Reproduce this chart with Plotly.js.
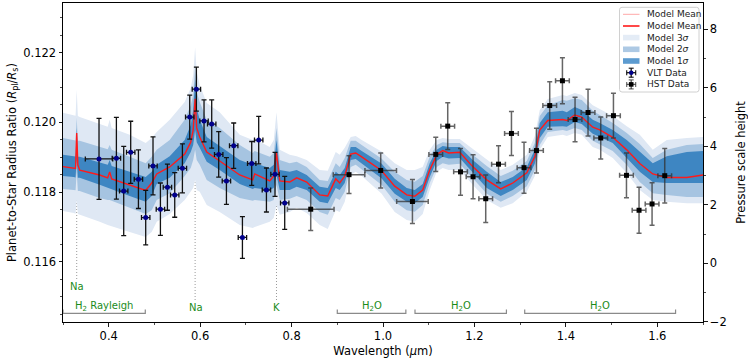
<!DOCTYPE html>
<html><head><meta charset="utf-8">
<script src="https://cdn.plot.ly/plotly-3.0.1.min.js"></script>
<style>html,body{margin:0;padding:0;background:#fff}#chart{width:748px;height:362px}</style>
</head><body><div id="chart"></div>
<script>
// ---------------- Model (retrieval) ----------------
const modelWl = [0.300,0.3234,0.3275,0.330,0.3325,0.3365,0.3803,0.3978,0.4021,0.4065,0.4459,0.4809,0.4940,0.5050,0.5334,0.5662,0.5794,0.5848,0.5890,0.5925,0.5991,0.6144,0.6428,0.6866,0.7150,0.7194,0.7522,0.7610,0.7670,0.7741,0.7959,0.8112,0.8331,0.8616,0.8791,0.8966,0.9053,0.9163,0.9294,0.9403,0.9534,0.9966,1.0256,1.0519,1.0694,1.0869,1.1022,1.1175,1.1306,1.1438,1.1678,1.1963,1.2269,1.2575,1.2838,1.3145,1.3320,1.3429,1.3604,1.3932,1.4020,1.4195,1.4348,1.4588,1.4742,1.5026,1.5332,1.5617,1.5901,1.6207,1.6645,1.7000];
const modelMean = [0.11873,0.11869,0.11868,0.11969,0.11878,0.11863,0.11849,0.11841,0.11858,0.11838,0.11821,0.11805,0.11826,0.11852,0.11872,0.11909,0.11943,0.11978,0.12067,0.11984,0.11958,0.11915,0.11889,0.11849,0.11835,0.11852,0.11832,0.11846,0.11912,0.11832,0.11829,0.11841,0.11829,0.11792,0.11789,0.11838,0.11826,0.11846,0.11909,0.11912,0.11901,0.11862,0.11817,0.11792,0.11788,0.11806,0.11863,0.11907,0.11919,0.11912,0.11914,0.11873,0.11835,0.11809,0.11826,0.11855,0.11901,0.11978,0.12005,0.12008,0.12005,0.12021,0.12015,0.11986,0.11978,0.11957,0.11921,0.11882,0.11852,0.11842,0.11842,0.11849];
const sig1Hi = [0.11907,0.11903,0.11902,0.11984,0.11901,0.11901,0.11883,0.11878,0.11892,0.11875,0.11858,0.11843,0.11858,0.11878,0.11903,0.11949,0.11992,0.12035,0.12122,0.12041,0.12007,0.11958,0.11932,0.11892,0.11878,0.11883,0.11869,0.11878,0.11949,0.11863,0.11858,0.11863,0.11849,0.11815,0.11812,0.11858,0.11849,0.11869,0.11929,0.11929,0.11918,0.11882,0.11838,0.11812,0.11806,0.11823,0.11883,0.11921,0.11932,0.11929,0.11929,0.11892,0.11858,0.11829,0.11843,0.11872,0.11921,0.11998,0.12029,0.12033,0.12029,0.12044,0.12035,0.12007,0.11998,0.11978,0.11949,0.11915,0.11883,0.11903,0.11915,0.11918];
const sig1Lo = [0.11846,0.11843,0.11842,0.11892,0.11841,0.11841,0.11821,0.11812,0.11812,0.11809,0.11789,0.11772,0.11789,0.11823,0.11841,0.11883,0.11915,0.11935,0.11978,0.11943,0.11927,0.11887,0.11863,0.11823,0.11809,0.11812,0.11806,0.11812,0.11849,0.11806,0.11806,0.11815,0.11806,0.11772,0.11768,0.11812,0.11806,0.11826,0.11892,0.11895,0.11883,0.11840,0.11795,0.11772,0.11768,0.11786,0.11843,0.11889,0.11901,0.11896,0.11898,0.11855,0.11812,0.11789,0.11806,0.11835,0.11881,0.11955,0.11987,0.11989,0.11987,0.12001,0.11995,0.11967,0.11958,0.11941,0.11898,0.11858,0.11829,0.11826,0.11826,0.11826];
const sig2Hi = [0.11955,0.11949,0.11948,0.12013,0.11947,0.11947,0.11929,0.11923,0.11935,0.11921,0.11901,0.11883,0.11901,0.11921,0.11949,0.12007,0.12049,0.12078,0.12159,0.12087,0.12058,0.12007,0.11984,0.11935,0.11912,0.11918,0.11901,0.11912,0.11984,0.11892,0.11883,0.11887,0.11872,0.11835,0.11832,0.11883,0.11872,0.11898,0.11947,0.11947,0.11935,0.11896,0.11858,0.11835,0.11830,0.11846,0.11901,0.11935,0.11943,0.11941,0.11941,0.11907,0.11875,0.11846,0.11861,0.11889,0.11941,0.12018,0.12049,0.12064,0.12062,0.12069,0.12064,0.12033,0.12021,0.11998,0.11969,0.11938,0.11898,0.11921,0.11935,0.11938];
const sig2Lo = [0.11809,0.11806,0.11805,0.11858,0.11803,0.11803,0.11783,0.11777,0.11777,0.11775,0.11755,0.11737,0.11748,0.11777,0.11797,0.11846,0.11869,0.11892,0.11921,0.11892,0.11878,0.11835,0.11812,0.11783,0.11775,0.11777,0.11772,0.11777,0.11821,0.11777,0.11781,0.11789,0.11777,0.11743,0.11735,0.11783,0.11777,0.11801,0.11872,0.11878,0.11866,0.11821,0.11772,0.11748,0.11744,0.11763,0.11826,0.11872,0.11883,0.11878,0.11881,0.11838,0.11795,0.11772,0.11789,0.11817,0.11863,0.11935,0.11972,0.11978,0.11975,0.11984,0.11978,0.11947,0.11938,0.11918,0.11878,0.11829,0.11797,0.11792,0.11786,0.11786];
const sig3Hi = [0.12027,0.12021,0.12019,0.12093,0.12018,0.12015,0.11995,0.11987,0.12007,0.11984,0.11964,0.11941,0.11955,0.11972,0.12007,0.12058,0.12098,0.12135,0.12215,0.12144,0.12107,0.12055,0.12029,0.11964,0.11949,0.11952,0.11929,0.11949,0.12029,0.11921,0.11907,0.11903,0.11892,0.11863,0.11861,0.11915,0.11907,0.11927,0.11958,0.11961,0.11949,0.11916,0.11883,0.11863,0.11863,0.11872,0.11921,0.11949,0.11955,0.11952,0.11952,0.11923,0.11892,0.11863,0.11878,0.11907,0.11961,0.12035,0.12067,0.12078,0.12075,0.12084,0.12078,0.12049,0.12038,0.12018,0.11989,0.11964,0.11921,0.11949,0.11955,0.11958];
const sig3Lo = [0.11746,0.11740,0.11738,0.11777,0.11737,0.11737,0.11715,0.11706,0.11706,0.11702,0.11686,0.11671,0.11686,0.11715,0.11737,0.11777,0.11801,0.11812,0.11835,0.11806,0.11801,0.11763,0.11743,0.11706,0.11697,0.11700,0.11715,0.11726,0.11763,0.11735,0.11743,0.11755,0.11740,0.11706,0.11694,0.11748,0.11743,0.11772,0.11849,0.11858,0.11846,0.11796,0.11743,0.11720,0.11715,0.11737,0.11806,0.11858,0.11869,0.11863,0.11863,0.11821,0.11777,0.11755,0.11768,0.11801,0.11846,0.11921,0.11958,0.11964,0.11961,0.11969,0.11964,0.11929,0.11921,0.11898,0.11855,0.11806,0.11777,0.11772,0.11768,0.11768];

// ---------------- VLT data ----------------
const vltWl  = [0.3788,0.4168,0.4328,0.4481,0.4650,0.4809,0.4969,0.5131,0.5284,0.5444,0.5612,0.5772,0.5918,0.6085,0.6253,0.6406,0.6575,0.6734,0.6925,0.7128,0.7281,0.7450,0.7638,0.7850];
const vltWlErr = [0.030,0.0092,0.0092,0.0092,0.0092,0.0092,0.0092,0.0092,0.0092,0.0092,0.0092,0.0092,0.0092,0.0092,0.0092,0.0092,0.0092,0.0092,0.0092,0.0092,0.0092,0.0092,0.0092,0.0092];
const vltRatio = [0.11895,0.11897,0.11803,0.11914,0.11837,0.11727,0.11875,0.11751,0.11814,0.11792,0.11868,0.12015,0.12095,0.12004,0.11995,0.11908,0.11832,0.11933,0.11670,0.11882,0.11949,0.11806,0.11851,0.11769];
const vltErr   = [0.00116,0.00117,0.00128,0.00089,0.00084,0.00078,0.00083,0.00075,0.00066,0.00064,0.00070,0.00063,0.00063,0.00060,0.00069,0.00065,0.00067,0.00065,0.00060,0.00063,0.00068,0.00063,0.00063,0.00076];

// ---------------- HST data ----------------
const hstWl  = [0.8419,0.9257,0.9950,1.0644,1.1154,1.1416,1.1696,1.1970,1.2247,1.2527,1.2810,1.3085,1.3357,1.3647,1.3925,1.4201,1.4485,1.4763,1.5041,1.5326,1.5601,1.5886,1.6163];
const hstWlErr = [0.051,0.0345,0.0345,0.0345,0.015,0.015,0.015,0.015,0.015,0.015,0.015,0.015,0.015,0.015,0.015,0.015,0.015,0.015,0.015,0.015,0.015,0.015,0.015];
const hstRatio = [0.11751,0.11850,0.11862,0.11773,0.11908,0.11989,0.11858,0.11844,0.11781,0.11880,0.11968,0.11870,0.11919,0.12048,0.12119,0.12008,0.12028,0.11955,0.12019,0.11848,0.11748,0.11766,0.11847];
const hstErr   = [0.00061,0.00054,0.00050,0.00063,0.00049,0.00067,0.00067,0.00063,0.00068,0.00053,0.00063,0.00073,0.00064,0.00068,0.00066,0.00064,0.00067,0.00060,0.00064,0.00064,0.00066,0.00061,0.00078];

// ---------------- Feature annotations ----------------
const lineWl = [0.33, 0.589, 0.767];
const lineLabels = ['Na', 'Na', 'K'];
const bracketStart = [0.30, 0.90, 1.07, 1.31];
const bracketEnd   = [0.48, 1.05, 1.27, 1.64];
const bracketLabels = ['H<sub>2</sub> Rayleigh', 'H<sub>2</sub>O', 'H<sub>2</sub>O', 'H<sub>2</sub>O'];

// ---------------- Axis ranges ----------------
const xRange = [0.3, 1.7];
const yRange = [0.114278, 0.123418];
const y2Range = [-2.010, 8.901];

const C3 = '#dfe8f4', C2 = '#a6c4e1', C1 = '#3e86c2';
const RED = '#ff1a1a';
const GREEN = '#1a8c1a';

function band(hi, lo, color, name) {
  return {x: modelWl.concat(modelWl.slice().reverse()), y: hi.concat(lo.slice().reverse()),
    type:'scatter', mode:'lines', fill:'toself', fillcolor: color, line:{width:0, color: color},
    hoverinfo:'skip', showlegend:false, name: name};
}

const traces = [
  band(sig3Hi, sig3Lo, C3, 'Model 3σ'),
  band(sig2Hi, sig2Lo, C2, 'Model 2σ'),
  band(sig1Hi, sig1Lo, C1, 'Model 1σ'),
  {x: modelWl, y: modelMean, type:'scatter', mode:'lines', line:{color: RED, width:1.4}, showlegend:false, name:'Model Mean'},
  {x: hstWl, y: hstRatio, type:'scatter', mode:'markers', name:'HST Data', showlegend:false,
   marker:{symbol:'square', size:5, color:'#000'},
   error_y:{type:'data', array: hstErr, color:'rgba(50,50,50,0.75)', thickness:1.5, width:2.5},
   error_x:{type:'data', array: hstWlErr, color:'rgba(50,50,50,0.75)', thickness:1.5, width:2.5}},
  {x: vltWl, y: vltRatio, type:'scatter', mode:'markers', name:'VLT Data', showlegend:false,
   marker:{symbol:'circle', size:5, color:'#00008b'},
   error_y:{type:'data', array: vltErr, color:'#111', thickness:1.3, width:2.5},
   error_x:{type:'data', array: vltWlErr, color:'#111', thickness:1.3, width:2.5}},
  {x:[xRange[0]], y:[0], yaxis:'y2', type:'scatter', mode:'markers', marker:{opacity:0}, hoverinfo:'skip', showlegend:false}
];

// pixel helpers for layout-only decorations (plot area: x 63..703, y 3..322)
const L = 63, W = 640, T = 3, H = 319;
const PX = p => (p - L) / W;
const PY = p => (T + H - p) / H;
const yAt = p => yRange[1] - (p - T) * (yRange[1] - yRange[0]) / H;

const shapes = [];
const annotations = [];
// dotted vertical lines
const lineBottom = [279, 300, 300];
const lineTop = [0.11999, 0.12129, 0.11912];
lineWl.forEach((w, i) => {
  shapes.push({type:'line', layer:'below', xref:'x', yref:'y', x0:w, x1:w, y0: yAt(lineBottom[i]), y1: lineTop[i],
    line:{color:'#9a9a9a', width:1, dash:'1px,2px'}});
});
annotations.push({xref:'x', yref:'y', x: lineWl[0], y: yAt(286), text: lineLabels[0], showarrow:false,
  font:{size:10, color:GREEN}, xanchor:'center', yanchor:'middle'});
annotations.push({xref:'x', yref:'y', x: lineWl[1] + 0.003, y: yAt(307.3), text: lineLabels[1], showarrow:false,
  font:{size:10, color:GREEN}, xanchor:'center', yanchor:'middle'});
annotations.push({xref:'x', yref:'y', x: lineWl[2], y: yAt(307.3), text: lineLabels[2], showarrow:false,
  font:{size:10, color:GREEN}, xanchor:'center', yanchor:'middle'});
// brackets
bracketStart.forEach((s, i) => {
  const e = bracketEnd[i];
  const yb = yAt(313.3), yt = yAt(309.5);
  shapes.push({type:'path', xref:'x', yref:'y', layer:'above',
    path:`M ${s} ${yt} L ${s} ${yb} L ${e} ${yb} L ${e} ${yt}`, line:{color:'#8a8a8a', width:1.2}});
  annotations.push({xref:'x', yref:'y', x:(s+e)/2, y: yAt(306.8), text: bracketLabels[i], showarrow:false,
    font:{size:10, color:GREEN}, xanchor:'center', yanchor:'middle'});
});

// custom legend
const lgX0 = 619.5, lgX1 = 699, lgY0 = 7.3, lgY1 = 92, r = 2.5;
shapes.push({type:'path', xref:'paper', yref:'paper', layer:'above',
  path:`M ${PX(lgX0+r)} ${PY(lgY0)} L ${PX(lgX1-r)} ${PY(lgY0)} Q ${PX(lgX1)} ${PY(lgY0)} ${PX(lgX1)} ${PY(lgY0+r)} L ${PX(lgX1)} ${PY(lgY1-r)} Q ${PX(lgX1)} ${PY(lgY1)} ${PX(lgX1-r)} ${PY(lgY1)} L ${PX(lgX0+r)} ${PY(lgY1)} Q ${PX(lgX0)} ${PY(lgY1)} ${PX(lgX0)} ${PY(lgY1-r)} L ${PX(lgX0)} ${PY(lgY0+r)} Q ${PX(lgX0)} ${PY(lgY0)} ${PX(lgX0+r)} ${PY(lgY0)} Z`,
  fillcolor:'rgba(255,255,255,0.85)', line:{color:'#d0d0d0', width:1}});
const rowY = [14.3, 26.0, 37.6, 49.3, 61.0, 72.7, 84.4];
const hx0 = 623, hx1 = 639.5, hxc = 631.2, tx = 645;
const legendTexts = ['Model Mean','Model Mean','Model 3<i>σ</i>','Model 2<i>σ</i>','Model 1<i>σ</i>','VLT Data','HST Data'];
function seg(x0,y0,x1,y1,color,w){shapes.push({type:'line', xref:'paper', yref:'paper', layer:'above', x0:PX(x0), y0:PY(y0), x1:PX(x1), y1:PY(y1), line:{color:color, width:w}});}
seg(hx0,rowY[0],hx1,rowY[0],'#ffa8a8',1);
seg(hx0,rowY[1],hx1,rowY[1],RED,1.6);
[['#e4ecf6',2],['#adc9e4',3],['#5c9bd0',4]].forEach(([c,k]) => {
  shapes.push({type:'rect', xref:'paper', yref:'paper', layer:'above', x0:PX(hx0), x1:PX(hx1), y0:PY(rowY[k]-2.8), y1:PY(rowY[k]+2.8), fillcolor:c, line:{width:0}});
});
[[5,'#111','#00008b','circle'],[6,'rgba(50,50,50,0.8)','#000','rect']].forEach(([k,ec,mc,sym]) => {
  const y = rowY[k];
  seg(hxc, y-4.5, hxc, y+4.5, ec, 1.3);
  seg(hxc-2.5, y-4.5, hxc+2.5, y-4.5, ec, 1.1);
  seg(hxc-2.5, y+4.5, hxc+2.5, y+4.5, ec, 1.1);
  seg(hxc-4.5, y, hxc+4.5, y, ec, 1.3);
  seg(hxc-4.5, y-2.5, hxc-4.5, y+2.5, ec, 1.1);
  seg(hxc+4.5, y-2.5, hxc+4.5, y+2.5, ec, 1.1);
  shapes.push({type: sym, xref:'paper', yref:'paper', layer:'above', x0:PX(hxc-2.3), x1:PX(hxc+2.3), y0:PY(y-2.3), y1:PY(y+2.3), fillcolor:mc, line:{width:0}});
});
legendTexts.forEach((t,i) => {
  annotations.push({xref:'paper', yref:'paper', x: PX(tx), y: PY(rowY[i]), text:t, showarrow:false,
    xanchor:'left', yanchor:'middle', font:{size:9, color:'#222'}});
});

const axisCommon = {showgrid:false, zeroline:false, showline:true, linecolor:'#000', linewidth:1,
  ticks:'outside', ticklen:3.5, tickwidth:0.9, tickcolor:'#000', tickfont:{size:11.5, color:'#000'}};

const layout = {
  width:748, height:362,
  margin:{l:L, r:748-L-W, t:T, b:362-T-H, pad:0},
  paper_bgcolor:'#fff', plot_bgcolor:'#fff',
  font:{family:'DejaVu Sans, sans-serif', size:11.5, color:'#000'},
  showlegend:false,
  xaxis: Object.assign({}, axisCommon, {range:xRange, tick0:0, dtick:0.2, tickformat:'.1f', mirror:true,
    minor:{tick0:0, dtick:0.1, ticks:'outside', ticklen:2, tickwidth:0.7, tickcolor:'#000'},
    title:{text:'Wavelength (<i>μ</i>m)', standoff:4, font:{size:11.5}}}),
  yaxis: Object.assign({}, axisCommon, {range:yRange, tick0:0.116, dtick:0.002, tickformat:'.3f',
    minor:{tick0:0.116, dtick:0.0005, ticks:'outside', ticklen:2, tickwidth:0.7, tickcolor:'#000'},
    title:{text:'Planet-to-Star Radius Ratio (<i>R</i><sub>pl</sub>/<i>R</i><sub>s</sub>)', standoff:4, font:{size:11.5}}}),
  yaxis2: Object.assign({}, axisCommon, {overlaying:'y', side:'right', range:y2Range, tick0:0, dtick:2,
    minor:{tick0:0, dtick:1, ticks:'outside', ticklen:2, tickwidth:0.7, tickcolor:'#000'},
    title:{text:'Pressure scale height', standoff:12, font:{size:11.5}}}),
  shapes: shapes,
  annotations: annotations
};

Plotly.newPlot('chart', traces, layout, {staticPlot:true, displayModeBar:false});
</script>
</body></html>
